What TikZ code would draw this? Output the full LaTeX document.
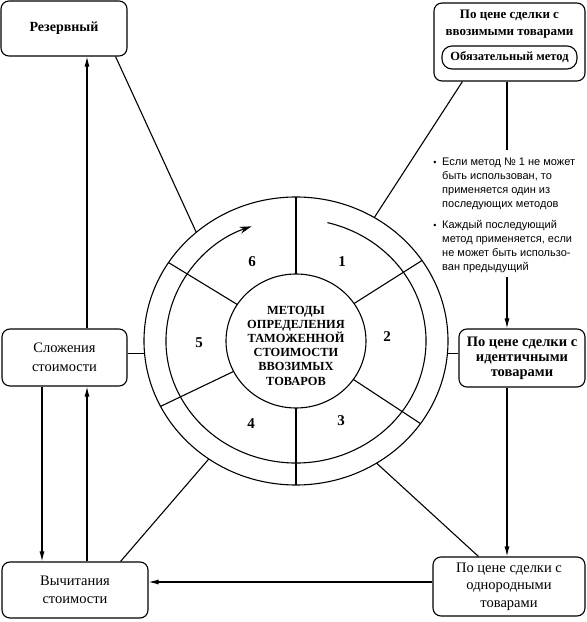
\documentclass[tikz,border=0pt]{standalone}
\usepackage{fontspec}
\setmainfont{Liberation Serif}
\newfontfamily\sansf{Liberation Sans}
\usetikzlibrary{arrows.meta}
\begin{document}
\begin{tikzpicture}[x=1pt,y=1pt,
  ln/.style={line width=1.1pt},
  arr/.style={line width=1.1pt,-{Latex[length=10pt,width=5pt]}},
  box/.style={draw,line width=1.1pt,rounded corners=8pt,inner sep=0pt,align=center},
  num/.style={font=\fontsize{15}{15}\selectfont\bfseries},
  bul/.style={anchor=base west,inner sep=0pt,font=\sansf\fontsize{11}{13}\selectfont}]
\useasboundingbox (0,0) rectangle (587,622);
\coordinate (C) at (296,281);
% rings
\draw[ln] (C) ellipse [x radius=152pt, y radius=144pt];
\draw[ln] (C) ellipse [x radius=70pt, y radius=67pt];
\draw[line width=1.1pt,-{Stealth[length=12pt,width=7pt]}] (C) ++(76:130pt and 122pt) arc[start angle=76, end angle=-250, x radius=130pt, y radius=122pt];
% dividers
\foreach \a/\n in {90/a,34/b,-35/c,-90/d,207/e,147/f}{
  \path (C) ++(\a:70pt and 67pt) coordinate (di\n);
  \path (C) ++(\a:152pt and 144pt) coordinate (do\n);
  \draw[ln] (di\n) -- (do\n);
}
% connection points on outer ring
\path (C) ++(131:152pt and 144pt) coordinate (p131);
\path (C) ++(59:152pt and 144pt) coordinate (p59);
\path (C) ++(185:152pt and 144pt) coordinate (p185);
\path (C) ++(-5:152pt and 144pt) coordinate (pm5);
\path (C) ++(235:152pt and 144pt) coordinate (p235);
\path (C) ++(-58:152pt and 144pt) coordinate (pm58);
% numbers
\node[num] (n1) at (342,360) {1};
\node[num] (n2) at (387,285) {2};
\node[num] (n3) at (341,201) {3};
\node[num] (n4) at (251,198) {4};
\node[num] (n5) at (199,279) {5};
\node[num] (n6) at (252,360) {6};
% centre text
\node[align=center,inner sep=0pt,font=\fontsize{12.4}{14.2}\selectfont\bfseries] (ctr) at (296,276.5)
  {МЕТОДЫ\\ОПРЕДЕЛЕНИЯ\\ТАМОЖЕННОЙ\\СТОИМОСТИ\\ВВОЗИМЫХ\\ТОВАРОВ};
% boxes
\node[box,minimum width=126pt,minimum height=55pt,font=\fontsize{14}{17}\selectfont\bfseries] (rez) at (64,593.5) {Резервный};
\node[box,minimum width=151pt,minimum height=78pt] (tr) at (509.5,580) {};
\node[align=center,inner sep=0pt,font=\fontsize{13}{17}\selectfont\bfseries] (trt) at (509.5,597.5) {По цене сделки с\\ввозимыми товарами};
\node[draw,line width=1.1pt,rounded corners=10pt,minimum width=135pt,minimum height=23pt,inner sep=0pt,font=\fontsize{12.5}{14}\selectfont\bfseries] (pill) at (509.5,564.5) {Обязательный метод};
\node[box,minimum width=125pt,minimum height=57pt,font=\fontsize{14.5}{19}\selectfont] (sl) at (64.5,264.5) {Сложения\\стоимости};
\node[box,minimum width=146pt,minimum height=56pt,font=\fontsize{14.5}{18}\selectfont] (vy) at (75,32) {Вычитания\\стоимости};
\node[box,minimum width=126pt,minimum height=58pt,font=\fontsize{14.5}{15}\selectfont\bfseries] (id) at (522,264) {По цене сделки с\\идентичными\\товарами};
\node[box,minimum width=152pt,minimum height=59pt,font=\fontsize{14.5}{17.5}\selectfont] (od) at (509,35.5) {По цене сделки с\\однородными\\товарами};
% bullet text
\node[anchor=base,inner sep=0pt,font=\sansf\fontsize{9}{9}\selectfont] (b1) at (435,456.5) {\textbullet};
\node[bul] (l1) at (442,456.5) {Если метод № 1 не может};
\node[bul] (l2) at (442,442.5) {быть использован, то};
\node[bul] (l3) at (442,428.5) {применяется один из};
\node[bul] (l4) at (442,414.5) {последующих методов};
\node[anchor=base,inner sep=0pt,font=\sansf\fontsize{9}{9}\selectfont] (b2) at (435,393.5) {\textbullet};
\node[bul] (l5) at (442,393.5) {Каждый последующий};
\node[bul] (l6) at (442,379.5) {метод применяется, если};
\node[bul] (l7) at (442,365.5) {не может быть использо-};
\node[bul] (l8) at (442,351.5) {ван предыдущий};
\coordinate (bulA) at (507,472);
\coordinate (bulB) at (507,345);
% connectors
\draw[ln] ([xshift=-12pt]rez.south east) -- (p131);
\draw[ln] ([xshift=29pt]tr.south west) -- (p59);
\draw[ln] ([xshift=-2.5pt]tr.south) -- (bulA);
\draw[arr] (bulB) -- ([xshift=-15pt]id.north);
\draw[ln] (pm5) -- (pm5 -| id.west);
\draw[ln] (p185) -- (p185 -| sl.east);
\draw[arr] ([xshift=22.5pt]sl.north) -- ([xshift=22.5pt]sl.north |- rez.south);
\draw[arr] ([xshift=-22.5pt]sl.south) -- ([xshift=-22.5pt]sl.south |- vy.north);
\draw[arr] ([xshift=22.5pt]sl.south |- vy.north) -- ([xshift=22.5pt]sl.south);
\draw[ln] ([xshift=-28pt]vy.north east) -- (p235);
\draw[arr] ([yshift=4.5pt]od.west) -- ([yshift=4.5pt]od.west -| vy.east);
\draw[ln] (pm58) -- ([xshift=46pt]od.north west);
\draw[arr] ([xshift=-15pt]id.south) -- ([xshift=-15pt]id.south |- od.north);
\end{tikzpicture}
\end{document}
